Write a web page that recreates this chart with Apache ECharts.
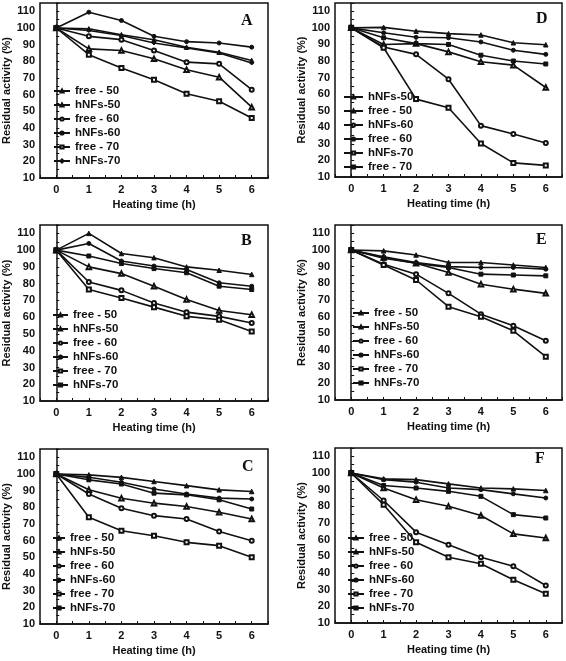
<!DOCTYPE html>
<html><head><meta charset="utf-8">
<script src="https://cdn.jsdelivr.net/npm/echarts@6/dist/echarts.min.js"></script>
<style>html,body{margin:0;padding:0;background:#fff}#c{width:566px;height:661px}</style>
</head><body><div id="c"></div>
<script>
// ---------- DATA ----------
const hours = [0, 1, 2, 3, 4, 5, 6];
const xTickLabels = ['0', '1', '2', '3', '4', '5', '6'];
const yTickLabels = ['10','20','30','40','50','60','70','80','90','100','110'];

const namesStd = ['free - 50', 'hNFs-50', 'free - 60', 'hNFs-60', 'free - 70', 'hNFs-70'];
const namesD   = ['hNFs-50', 'free - 50', 'hNFs-60', 'free - 60', 'hNFs-70', 'free - 70'];

// Panel A
const A_free50 = [100, 87.5, 86.5, 81.5, 75, 70.5, 52.5];
const A_hNFs50 = [100, 99.5, 96, 93, 88.5, 85.5, 80.5];
const A_free60 = [100, 95, 93, 86.5, 79.5, 78.5, 63];
const A_hNFs60 = [100, 109.5, 104.5, 95, 91.8, 91, 88.5];
const A_free70 = [100, 84, 76, 69, 60.5, 56, 46];
const A_hNFs70 = [100, 98.5, 95.5, 91, 88, 85, 79];
// Panel B
const B_free50 = [100, 90, 86, 78.5, 70.5, 64, 61.5];
const B_hNFs50 = [100, 110, 98, 95.5, 90, 88, 85.5];
const B_free60 = [100, 81, 76, 68.5, 63, 60.5, 56.5];
const B_hNFs60 = [100, 104, 93.5, 90.5, 88.5, 80.5, 78.5];
const B_free70 = [100, 76.5, 71.5, 66, 60.5, 58.5, 51.5];
const B_hNFs70 = [100, 96.5, 92, 89, 86.5, 78.5, 76.5];
// Panel C
const C_free50 = [100, 90.5, 85.5, 82.5, 80.5, 77, 73];
const C_hNFs50 = [100, 99.5, 98, 95.5, 93, 90.5, 89.5];
const C_free60 = [100, 88, 79.5, 75, 73, 65.5, 60];
const C_hNFs60 = [100, 98, 95, 91, 88, 85.5, 85];
const C_free70 = [100, 74, 66, 63, 59, 57, 50];
const C_hNFs70 = [100, 96.5, 94, 88.5, 87.5, 84.5, 79];
// Panel D (legend order: hNFs-50, free-50, hNFs-60, free-60, hNFs-70, free-70)
const D_hNFs50 = [100, 90, 90.5, 85.5, 79.5, 77.5, 64];
const D_free50 = [100, 100.3, 98, 96.5, 95.7, 91, 89.8];
const D_hNFs60 = [100, 88.5, 84, 69, 41, 36, 30.5];
const D_free60 = [100, 97, 94.3, 94, 91.5, 86.5, 84];
const D_hNFs70 = [100, 88, 57, 51.8, 30.2, 18.5, 17];
const D_free70 = [100, 94, 90.5, 90, 83.5, 80, 78.2];
// Panel E
const E_free50 = [100, 95.5, 92, 86.5, 79.5, 76.5, 74];
const E_hNFs50 = [100, 99.5, 97, 92.5, 92.5, 91, 89.5];
const E_free60 = [100, 91.5, 85.5, 74, 61.5, 54.5, 45.5];
const E_hNFs60 = [100, 96, 92.5, 90, 89.5, 89.5, 88.5];
const E_free70 = [100, 91, 82, 66, 60, 51.5, 36];
const E_hNFs70 = [100, 95, 92, 89.5, 85.5, 85, 84.5];
// Panel F
const F_free50 = [100, 91, 84, 80, 74.5, 63.5, 61];
const F_hNFs50 = [100, 96.5, 96, 93.5, 91, 90.5, 89.5];
const F_free60 = [100, 83.5, 64.5, 57, 49.5, 44, 32.5];
const F_hNFs60 = [100, 96, 94.5, 91, 90, 87.5, 85];
const F_free70 = [100, 81, 58.5, 49.5, 45.5, 36, 27.5];
const F_hNFs70 = [100, 92.5, 91, 89, 86, 75, 73];

// ---------- LAYOUT / STYLE ----------
const symStd = ['emptyTriangle', 'triangle', 'emptyCircle', 'circle', 'emptyRect', 'rect'];
const symA   = ['emptyTriangle', 'triangle', 'emptyCircle', 'circle', 'emptyRect', 'diamond'];

const panels = [
  { key: 'A', names: namesStd, sym: symA, data: [A_free50, A_hNFs50, A_free60, A_hNFs60, A_free70, A_hNFs70],
    grid: { left: 40, top: 3, width: 228, height: 175 }, lg: { left: 53, top: 84, w: 16 }, lt: { left: 241, top: 13 }, nameGap: 22 },
  { key: 'D', names: namesD, sym: symStd, data: [D_hNFs50, D_free50, D_hNFs60, D_free60, D_hNFs70, D_free70],
    grid: { left: 335, top: 3, width: 227, height: 174 }, lg: { left: 343, top: 90, w: 19 }, lt: { left: 536, top: 11 }, nameGap: 26 },
  { key: 'B', names: namesStd, sym: symStd, data: [B_free50, B_hNFs50, B_free60, B_hNFs60, B_free70, B_hNFs70],
    grid: { left: 40, top: 225, width: 228, height: 176 }, lg: { left: 52, top: 308, w: 15 }, lt: { left: 241, top: 233 }, nameGap: 22 },
  { key: 'E', names: namesStd, sym: symStd, data: [E_free50, E_hNFs50, E_free60, E_hNFs60, E_free70, E_hNFs70],
    grid: { left: 335, top: 225, width: 227, height: 175 }, lg: { left: 352, top: 306, w: 16 }, lt: { left: 536, top: 232 }, nameGap: 26 },
  { key: 'C', names: namesStd, sym: symStd, data: [C_free50, C_hNFs50, C_free60, C_hNFs60, C_free70, C_hNFs70],
    grid: { left: 40, top: 449, width: 228, height: 175 }, lg: { left: 52, top: 531, w: 12 }, lt: { left: 242, top: 459 }, nameGap: 22 },
  { key: 'F', names: namesStd, sym: symStd, data: [F_free50, F_hNFs50, F_free60, F_hNFs60, F_free70, F_hNFs70],
    grid: { left: 335, top: 448, width: 227, height: 175 }, lg: { left: 347, top: 531, w: 16 }, lt: { left: 535, top: 451 }, nameGap: 26 }
];

const FONT = '"Liberation Sans", Arial, Helvetica, sans-serif';
const INK = '#111';

const option = {
  backgroundColor: '#fff',
  animation: false,
  grid: [], xAxis: [], yAxis: [], series: [], legend: [], title: []
};

panels.forEach((p, gi) => {
  option.grid.push(Object.assign({ show: true, borderColor: INK, borderWidth: 1.5, backgroundColor: 'transparent' }, p.grid));
  option.xAxis.push({
    type: 'value', gridIndex: gi, min: -0.5, max: 6.5, interval: 0.5,
    name: 'Heating time (h)', nameLocation: 'middle', nameGap: 21,
    nameTextStyle: { fontFamily: FONT, fontWeight: 'bold', fontSize: 11, color: INK },
    axisLine: { show: true, lineStyle: { color: INK, width: 1.5 } },
    axisTick: { show: true, inside: true, length: 3, lineStyle: { color: INK, width: 1 } },
    axisLabel: { margin: 6, fontFamily: FONT, fontWeight: 'bold', fontSize: 11, color: INK,
      formatter: v => { const i = hours.indexOf(v); return i >= 0 ? xTickLabels[i] : ''; } },
    splitLine: { show: false }
  });
  option.yAxis.push({
    type: 'value', gridIndex: gi, min: 10, max: 115, interval: 5,
    name: 'Residual activity (%)', nameLocation: 'middle', nameGap: p.nameGap,
    nameTextStyle: { fontFamily: FONT, fontWeight: 'bold', fontSize: 11, color: INK },
    axisLine: { show: true, lineStyle: { color: INK, width: 1.5 } },
    axisTick: { show: true, inside: true, length: 3, lineStyle: { color: INK, width: 1 } },
    axisLabel: { margin: 5, fontFamily: FONT, fontWeight: 'bold', fontSize: 11, color: INK,
      formatter: v => { const s = String(v); return yTickLabels.indexOf(s) >= 0 ? s : ''; } },
    splitLine: { show: false }
  });
  const lgNames = [];
  p.names.forEach((nm, si) => {
    const full = p.key + '|' + nm;
    lgNames.push(full);
    option.series.push({
      type: 'line', name: full, xAxisIndex: gi, yAxisIndex: gi,
      data: hours.map((h, k) => [h, p.data[si][k]]),
      symbol: p.sym[si], symbolSize: p.sym[si].toLowerCase().indexOf('triangle') >= 0 ? 4.5 : 4,
      showSymbol: true,
      lineStyle: { color: INK, width: 1.6 },
      itemStyle: { color: INK, borderColor: INK, borderWidth: 1 },
      emphasis: { disabled: true }
    });
  });
  option.legend.push({
    data: lgNames, orient: 'vertical', left: p.lg.left, top: p.lg.top, padding: 0,
    itemWidth: p.lg.w, itemHeight: 4, itemGap: 0, selectedMode: false,
    formatter: n => n.split('|')[1],
    textStyle: { fontFamily: FONT, fontWeight: 'bold', fontSize: 11.5, color: INK, lineHeight: 14 }
  });
  option.title.push({
    text: p.key, left: p.lt.left, top: p.lt.top, padding: 0,
    textStyle: { fontFamily: '"Liberation Serif", "Times New Roman", serif', fontWeight: 'bold', fontSize: 16, color: INK }
  });
});

const chart = echarts.init(document.getElementById('c'), null, { renderer: 'canvas' });
chart.setOption(option);
</script></body></html>
